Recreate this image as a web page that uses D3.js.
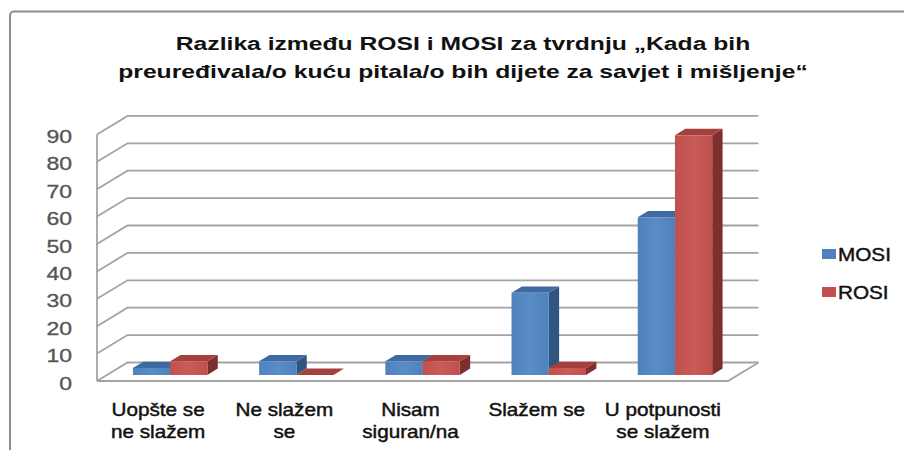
<!DOCTYPE html>
<html>
<head>
<meta charset="utf-8">
<script src="https://cdn.jsdelivr.net/npm/d3@7"></script>
<style>
  body { margin: 0; background: #fff; }
  svg { display: block; font-family: "Liberation Sans", Arial, sans-serif; }
</style>
</head>
<body>
<svg width="904" height="450"></svg>
<script>
// data
const categories = ["Uopšte se ne slažem", "Ne slažem se", "Nisam siguran/na", "Slažem se", "U potpunosti se slažem"];
const tickLabels = [["Uopšte se", "ne slažem"], ["Ne slažem", "se"], ["Nisam", "siguran/na"], ["Slažem se"], ["U potpunosti", "se slažem"]];
const series = ["MOSI", "ROSI"];
const mosi = [2.5, 5, 5, 30, 57.5];
const rosi = [5, 0, 5, 2.5, 87.5];
const yTicks = [0, 10, 20, 30, 40, 50, 60, 70, 80, 90];
const titleLines = ["Razlika između ROSI i MOSI za tvrdnju „Kada bih", "preuređivala/o kuću pitala/o bih dijete za savjet i mišljenje“"];

const colors = {
  MOSI: {front: "#4f81bd", light: "#5a8cc8", top: "#3d6aa3", side: "#2f5683"},
  ROSI: {front: "#c0504d", light: "#c95b58", top: "#a5403d", side: "#7e2e2c"}
};

const svg = d3.select("svg");

// gradients for bar fronts
const defs = svg.append("defs");
series.forEach((s) => {
  const gr = defs.append("linearGradient").attr("id", "g" + s)
    .attr("x1", "0").attr("x2", "1").attr("y1", "0").attr("y2", "0");
  gr.append("stop").attr("offset", "0").attr("stop-color", colors[s].front);
  gr.append("stop").attr("offset", "0.5").attr("stop-color", colors[s].light);
  gr.append("stop").attr("offset", "1").attr("stop-color", colors[s].front);
});

// outer frame
svg.append("rect")
  .attr("x", 10).attr("y", 11.5)
  .attr("width", 1000).attr("height", 1000)
  .attr("rx", 4)
  .attr("fill", "none")
  .attr("stroke", "#8c8c8c")
  .attr("stroke-width", 2);

// 3d geometry (front plane + depth vector)
const X0 = 97, W = 631;
const DX = 30.5, DY = -18.5;
const t1 = 0.33, t2 = 0.67;

const y = d3.scaleLinear().domain([0, 90]).range([381, 134.4]);
const x0 = d3.scaleBand().domain(categories).range([0, W]).paddingInner(0.41).paddingOuter(0.205);
const x1 = d3.scaleBand().domain(series).range([0, x0.bandwidth()]);

function pt(x, v, t) {
  return [X0 + x + t * DX, y(v) + t * DY];
}

// stretched text helper (the reference is wider than normal glyphs)
function stext(g, x, yy, str, sx, anchor) {
  return g.append("text")
    .attr("transform", "translate(" + x + "," + yy + ") scale(" + sx + ",1)")
    .attr("text-anchor", anchor || "start")
    .text(str);
}

// walls and gridlines
const grid = svg.append("g")
  .attr("stroke", "#a3a3a3")
  .attr("stroke-width", 1.8)
  .attr("fill", "none");

yTicks.forEach((v) => {
  const a = pt(0, v, 0), b = pt(0, v, 1), c = pt(W, v, 1);
  grid.append("polyline").attr("points", [a, b, c].map((p) => p.join(",")).join(" "));
});
// left wall front edge
grid.append("line")
  .attr("x1", pt(0, 0, 0)[0]).attr("y1", pt(0, 0, 0)[1])
  .attr("x2", pt(0, 90, 0)[0]).attr("y2", pt(0, 90, 0)[1]);
// floor front + right edge
grid.append("polyline")
  .attr("points", [pt(0, 0, 0), pt(W, 0, 0), pt(W, 0, 1)].map((p) => p.join(",")).join(" "));

// bars
const bars = [];
categories.forEach((c, i) => {
  bars.push({cat: c, s: "MOSI", v: mosi[i]});
  bars.push({cat: c, s: "ROSI", v: rosi[i]});
});

const barG = svg.append("g");
bars.forEach((d) => {
  const xl = x0(d.cat) + x1(d.s);
  const xr = xl + x1.bandwidth();
  const col = colors[d.s];
  const g = barG.append("g");
  const poly = (pts, fill) => g.append("polygon")
    .attr("points", pts.map((p) => p.join(",")).join(" "))
    .attr("fill", fill);
  // side
  poly([pt(xr, d.v, t1), pt(xr, d.v, t2), pt(xr, 0, t2), pt(xr, 0, t1)], col.side);
  // top
  poly([pt(xl, d.v, t1), pt(xr, d.v, t1), pt(xr, d.v, t2), pt(xl, d.v, t2)], col.top);
  // front
  if (d.v > 0) {
    poly([pt(xl, d.v, t1), pt(xr, d.v, t1), pt(xr, 0, t1), pt(xl, 0, t1)], "url(#g" + d.s + ")");
  }
});

// y axis labels
const yLab = svg.append("g")
  .attr("font-size", 18)
  .attr("fill", "#555")
  .attr("stroke", "#555")
  .attr("stroke-width", 0.3);
yTicks.forEach((v) => {
  stext(yLab, 72, y(v) + 8.5, v, 1.28, "end");
});

// x axis labels
const xLab = svg.append("g")
  .attr("font-size", 18)
  .attr("fill", "#111")
  .attr("stroke", "#111")
  .attr("stroke-width", 0.45);
categories.forEach((c, i) => {
  const cx = X0 + x0(c) + x0.bandwidth() / 2 - 2;
  tickLabels[i].forEach((line, j) => {
    stext(xLab, cx, 416 + j * 21.5, line, 1.15, "middle");
  });
});

// title
const tG = svg.append("g")
  .attr("font-size", 18.5)
  .attr("font-weight", "bold")
  .attr("fill", "#111");
const titleWidths = [575, 690];
titleLines.forEach((line, i) => {
  const t = stext(tG, 463, 50 + i * 27.5, line, 1, "middle");
  const w = t.node().getComputedTextLength();
  t.attr("transform", "translate(463," + (50 + i * 27.5) + ") scale(" + (titleWidths[i] / w) + ",1)");
});

// legend
const leg = svg.append("g").attr("font-size", 18.5).attr("fill", "#111")
  .attr("stroke", "#111").attr("stroke-width", 0.45);
series.forEach((s, i) => {
  const ly = 254 + i * 38;
  leg.append("rect")
    .attr("x", 822).attr("y", ly - 5)
    .attr("width", 14).attr("height", 10)
    .attr("stroke", "none")
    .attr("fill", colors[s].front);
  stext(leg, 838, ly + 6.5, s, 1.12, "start");
});
</script>
</body>
</html>
